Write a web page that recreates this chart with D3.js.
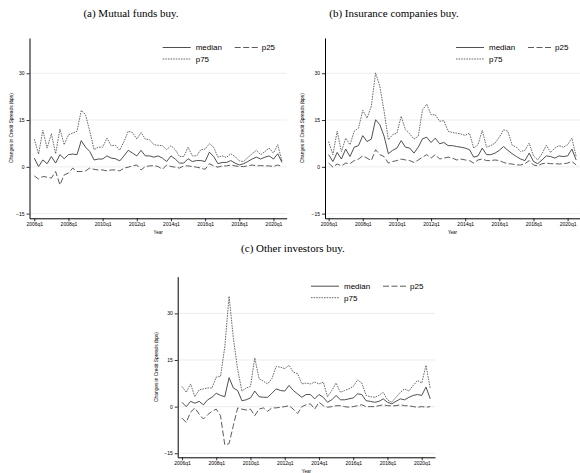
<!DOCTYPE html>
<html>
<head>
<meta charset="utf-8">
<script src="https://cdn.jsdelivr.net/npm/d3@7"></script>
<style>
body { margin: 0; background: #fff; }
.tick text { font-family: "Liberation Sans", Arial, sans-serif; }
</style>
</head>
<body>
<svg id="chart" width="580" height="473"></svg>
<script>
// quarterly data, 2006q1 .. 2020q3 (index 0 = 2006q1)
var tickLabels = ["2006q1", "2008q1", "2010q1", "2012q1", "2014q1", "2016q1", "2018q1", "2020q1"];
var tickIdx = [0, 8, 16, 24, 32, 40, 48, 56];
var yTicks = [-15, 0, 15, 30];
var seriesNames = ["median", "p25", "p75"];

// (a) mutual funds
var mfMedian = [2.8,0.1,2.2,1,3.3,1.2,3.9,2.6,3.9,4.1,3.9,8.4,6.3,4.9,2.2,2.5,2.5,3.5,2.8,2.6,1.9,3.5,5.3,4.4,3.5,5.3,3.5,3.5,3.1,3.5,2.8,1.7,3.5,2.5,1.2,1.2,2.6,1.7,2,2,1.7,4.7,3.3,1,1.4,1.4,2,1.2,0.6,1,1.7,2.5,3.1,2.5,3.1,3.5,2.5,4.2,1.4];
var mfP25 = [-2.9,-3.9,-3.1,-3.3,-3.6,-1.5,-5.8,-2.6,-2,-0.4,-1.5,-1.5,-1.3,-0.4,-0.8,-1,-1,-1.3,-1,-1,-1.3,-0.4,-0.1,0.3,0.6,-1,0.1,0.3,0.4,0.1,-0.8,0.6,0.1,-0.1,-0.4,0.3,0.3,0.1,-0.1,-0.4,-0.8,1,0.3,-0.1,0.3,0.3,0.6,0.3,0.1,0.1,0.3,0.6,0.3,0.4,0.3,0.3,0.1,0.6,0.1];
var mfP75 = [8.9,4.1,11.7,6,10.6,4.2,12.1,7.1,10.3,10.8,11.4,18.1,16.7,11.4,5.5,6.3,6.3,9.2,6.8,6.9,5.3,8.1,11.4,11,8.9,11,8.9,8.7,7.1,6.9,6.8,5.5,6.8,5.5,3.3,3.3,6.3,3.5,3.5,5.5,5.7,7.4,6.3,3.1,3.5,3,4.2,3.3,1.9,1.7,3,4.2,5.3,3.9,4.9,6,4.4,7.1,1.7];

// (b) insurance companies
var icMedian = [3.9,1.7,4.6,2.5,5.7,3.3,6.3,6.8,10,8.1,8.9,15.1,13.5,9.8,4.2,5.3,6,8.4,6.3,6,4.4,6.3,9,9.5,7.8,9.2,7.4,7.8,6.8,6.8,6.5,6.3,6,5.5,3.1,3.5,6,3.9,3.9,4.4,5.3,6.5,5.3,4.2,3.3,2.5,2,4.4,1.7,1,2.2,3.5,3.3,2.8,3.5,3.3,3.5,5.7,2.2];
var icP25 = [1.2,-0.1,0.9,0.3,1.2,1,2,2.5,3.5,2.8,2,5.5,3.9,3.3,1.2,1.7,2,2.5,2.2,2,1.4,2.2,3.1,3.9,2.8,3.9,2.5,2.8,3.1,2.8,2.2,2.5,2.2,2,1.2,2.2,2.5,2,2,2.2,2,1.4,1,0.9,0.6,0.6,1,2,0.6,0.3,1,1.2,1,1,0.9,1,1.2,1.7,0.6];
var icP75 = [8.1,3.9,11.4,4.9,9.2,7.1,11.4,12.4,18.1,15.6,19.4,30.1,25.8,17.8,8.7,10.3,10.8,16.2,11.9,10.6,8.9,9.8,18.3,20.1,16.7,16.7,14.6,14.8,11.4,11,10.8,10.5,10.1,10.8,6,7.1,11.7,6.3,6.8,7.6,9.5,11.9,11.4,6.9,6.3,4.9,5.3,7.6,3.5,2.2,4.2,6.9,4.6,6,6.8,6.3,7.1,9.2,3.3];

// (c) other investors
var oiMedian = [1.4,0,1.7,1.1,1.7,0.6,2.2,3,4.3,3.6,3.2,9.3,6,5.2,1.9,2.2,2.8,5,3.2,3,3,4.3,5.7,5.2,5,6.8,5.2,4.1,3,3.9,3.9,2.5,3.9,3,1.4,2.2,3.6,2.2,2.2,2.5,2.8,4.1,3.9,1.9,1.7,1.4,1.7,2.5,1.4,0.9,1.7,2.5,2.2,3,3.6,3.9,3.6,6.3,2.5];
var oiP25 = [-3.7,-5.1,-1.8,-0.4,-2.4,-4,-2.6,-1.5,-0.8,-2.9,-12.3,-11.9,-6.1,-0.4,-0.8,-1.1,-0.8,-2.9,-0.8,-0.4,-1.5,-0.4,-0.4,-0.2,0,0.3,-0.8,-2.2,0,0.6,0.9,-0.8,1.4,0.3,-0.2,0,0.3,0.3,0,-0.2,0,0.3,0.6,0,0,0,0.3,0.6,0.3,0.3,0.3,0.6,0.3,0.3,0,-0.2,0,-0.2,0];
var oiP75 = [6.5,4.6,7.3,3.2,5.4,5.7,6,6,9.5,9.7,19.2,35.5,22,12,5,6,6.5,15.7,9,8.2,7.3,9,12.9,12.7,12.2,13.3,11.1,10.6,7.3,7.6,7.3,7.9,7.3,7.9,3.2,5.2,7.6,4.6,5.2,5.7,6.5,8.6,7.6,3.6,3.2,3,3.6,4.6,2.2,1.4,3,4.6,5.7,5,6.8,8.4,7.6,13.3,5.7];

var SANS = '"Liberation Sans", Arial, sans-serif';
var SERIF = '"Liberation Serif", "DejaVu Serif", serif';

// line looks per series
var STYLE = {
	median: {stroke: "#3c3c3c", dash: null},
	p25: {stroke: "#4a4a4a", dash: "6,2.5"},
	p75: {stroke: "#5a5a5a", dash: "1.6,1"}
};

var panels = [
	{title: "(a) Mutual funds buy.", tx: 131, ty: 17,
	 left: 29.5, right: 286.7, qLo: -1.12, qHi: 59.1,
	 top: 38, bottom: 218.3, vTop: 41.3, vBot: -16.5, ytx: 11,
	 data: {median: mfMedian, p25: mfP25, p75: mfP75}},
	{title: "(b) Insurance companies buy.", tx: 394, ty: 17,
	 left: 325, right: 580, qLo: -0.85, qHi: 58.9,
	 top: 38, bottom: 218.3, vTop: 41.3, vBot: -16.5, ytx: 302,
	 data: {median: icMedian, p25: icP25, p75: icP75}},
	{title: "(c) Other investors buy.", tx: 293, ty: 252,
	 left: 177.7, right: 435, qLo: -1.0, qHi: 59.1,
	 top: 276.7, bottom: 457.3, vTop: 41.8, vBot: -16.3, ytx: 156.5,
	 data: {median: oiMedian, p25: oiP25, p75: oiP75}}
];

var svg = d3.select("#chart");

function draw_panel(p)
{
	var g = svg.append("g");
	var x = d3.scaleLinear().domain([p.qLo, p.qHi]).range([p.left, p.right]);
	var y = d3.scaleLinear().domain([p.vBot, p.vTop]).range([p.bottom, p.top]);

	g.append("text")
		.attr("x", p.tx).attr("y", p.ty)
		.attr("text-anchor", "middle")
		.style("font-family", SERIF).style("font-size", "11px")
		.text(p.title);

	// grid
	g.selectAll("line.grid").data(yTicks).enter().append("line")
		.attr("class", "grid")
		.attr("x1", p.left).attr("x2", p.right)
		.attr("y1", function(d){return y(d);}).attr("y2", function(d){return y(d);})
		.attr("stroke", "#e8e8e8").attr("stroke-width", 0.8);

	var yAxis = g.append("g")
		.attr("transform", "translate(" + p.left + ",0)")
		.call(d3.axisLeft(y).tickValues(yTicks).tickSize(3).tickSizeOuter(0).tickPadding(2));
	var xAxis = g.append("g")
		.attr("transform", "translate(0," + p.bottom + ")")
		.call(d3.axisBottom(x).tickValues(tickIdx).tickSize(3).tickSizeOuter(0).tickPadding(1.5)
			.tickFormat(function(d, i){return tickLabels[i];}));
	[yAxis, xAxis].forEach(function(a){
		a.select(".domain").attr("stroke", "#000").attr("stroke-width", 1);
		a.selectAll(".tick line").attr("stroke", "#000").attr("stroke-width", 0.8);
		a.selectAll(".tick text").attr("fill", "#000").style("font-size", "5px");
	});

	g.append("text")
		.attr("transform", "translate(" + p.ytx + "," + ((p.top + p.bottom) / 2) + ") rotate(-90)")
		.attr("text-anchor", "middle").attr("dy", "0.35em")
		.style("font-family", SANS).style("font-size", "4.8px")
		.text("Changes in Credit Spreads (bps)");
	g.append("text")
		.attr("x", (p.left + p.right) / 2).attr("y", p.bottom + 15.5)
		.attr("text-anchor", "middle")
		.style("font-family", SANS).style("font-size", "4.5px")
		.text("Year");

	var line = d3.line()
		.x(function(d, i){return x(i);})
		.y(function(d){return y(d);});
	// draw p75 and p25 first, median on top
	["p75", "p25", "median"].forEach(function(s){
		g.append("path")
			.datum(p.data[s])
			.attr("d", line)
			.attr("fill", "none")
			.attr("stroke", STYLE[s].stroke)
			.attr("stroke-width", 0.9)
			.attr("stroke-dasharray", STYLE[s].dash)
			.attr("stroke-linejoin", "round");
	});

	// legend
	var lx = p.right - 124;
	var legPos = {
		median: {x: lx, y: p.top + 9.5, len: 28, gap: 5},
		p25: {x: lx + 72, y: p.top + 9.5, len: 23, gap: 4},
		p75: {x: lx, y: p.top + 21, len: 28, gap: 5}
	};
	seriesNames.forEach(function(s){
		var pos = legPos[s];
		g.append("line")
			.attr("x1", pos.x).attr("x2", pos.x + pos.len)
			.attr("y1", pos.y).attr("y2", pos.y)
			.attr("stroke", STYLE[s].stroke).attr("stroke-width", 0.9)
			.attr("stroke-dasharray", STYLE[s].dash);
		g.append("text")
			.attr("x", pos.x + pos.len + pos.gap).attr("y", pos.y)
			.attr("dy", "0.35em")
			.style("font-family", SANS).style("font-size", "8px")
			.text(s);
	});
}

for (var k = 0; k < panels.length; k++)
	draw_panel(panels[k]);
</script>
</body>
</html>
